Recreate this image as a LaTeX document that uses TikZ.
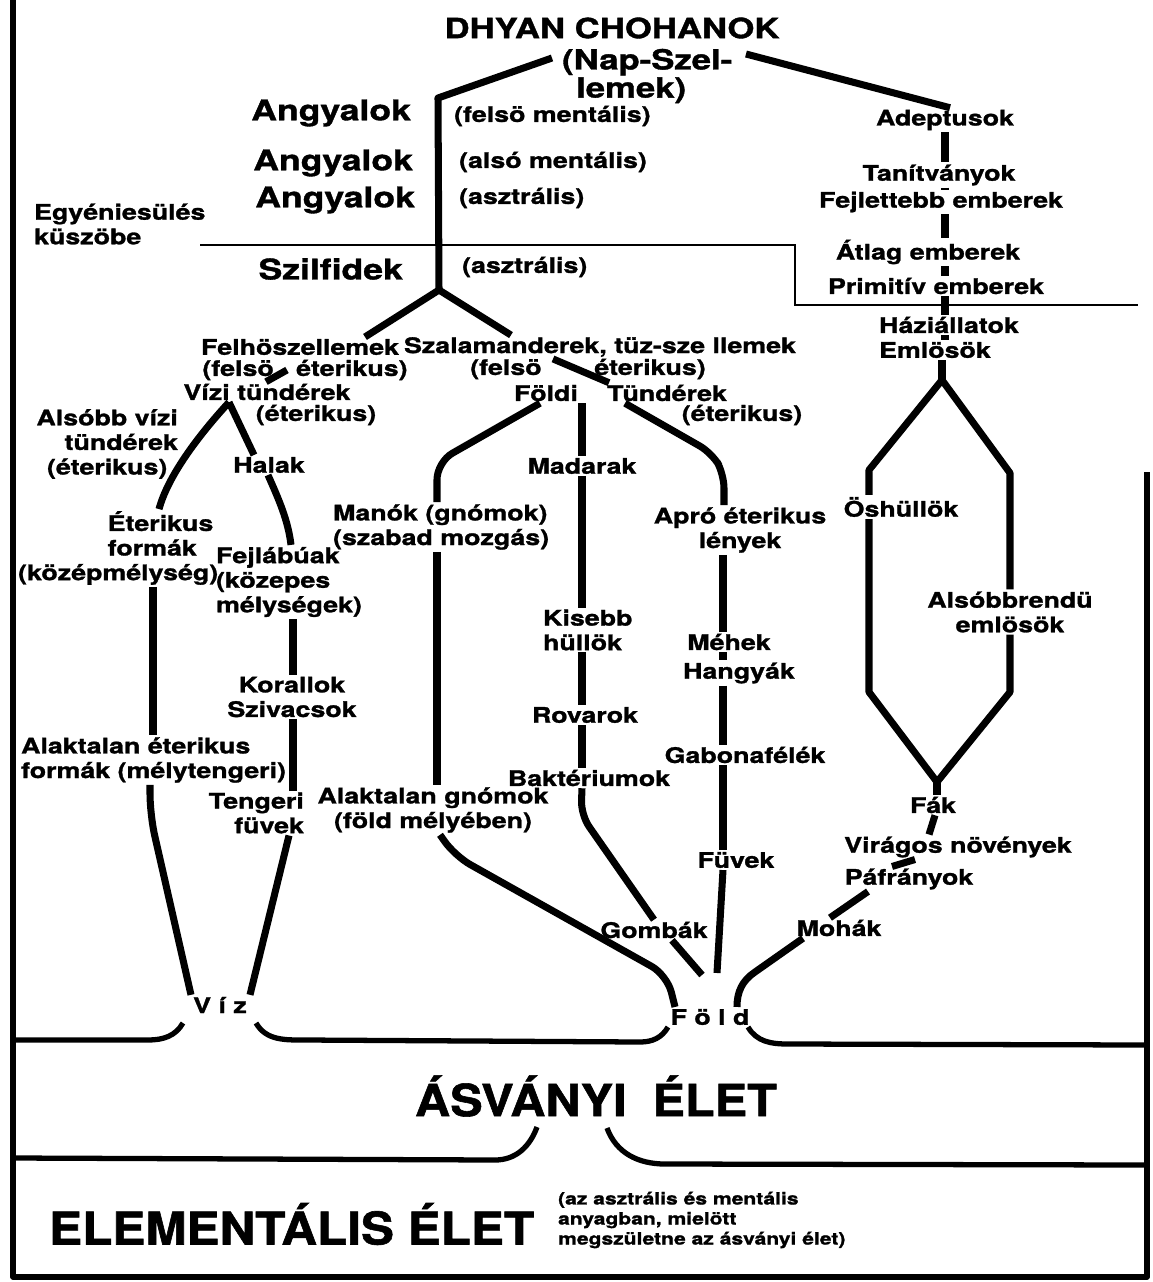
\documentclass[tikz,border=0pt]{standalone}
\usepackage{fontspec}
\setmainfont{TeX Gyre Heros}[FakeStretch=1.25, BoldFeatures={FakeBold=1.3}]
\newfontfamily\largofont{TeX Gyre Heros}[FakeStretch=1.1, BoldFeatures={FakeBold=1.3}]
\begin{document}
\begin{tikzpicture}[x=0.02cm, y=-0.02cm,
  rotulo/.style={font=\fontsize{12.2}{14}\selectfont\bfseries, inner sep=1pt, align=center},
  grande/.style={font=\fontsize{16.2}{18}\selectfont\bfseries, inner sep=1pt},
  titulo/.style={font=\fontsize{15.8}{16}\selectfont\bfseries, inner sep=1pt},
  enorme/.style={font=\largofont\fontsize{25.6}{28}\selectfont\bfseries, inner sep=1pt},
  miudo/.style={font=\fontsize{9.6}{11.4}\selectfont\bfseries, inner sep=1pt, align=left},
  ramo/.style={line width=4pt, line join=round},
  borda/.style={line width=3pt, line join=round},
  limiar/.style={line width=1.1pt}]

\useasboundingbox (0,0) rectangle (1153,1282);

% Colunas
\coordinate (cD) at (945,0);
\coordinate (cA) at (723,0);
\coordinate (cM) at (582,0);
\coordinate (cMan) at (437,0);
\coordinate (cK) at (293,0);
\coordinate (cE) at (153,0);

% Topo
\node (chohan) [titulo] at (612,28) {DHYAN CHOHANOK};
\node (napszel) [titulo, align=left, anchor=west] at (560,76) {(Nap-Szel-\\\hspace*{8pt}lemek)};

% Anjos e silfos
\node (angy1) [grande, anchor=east] at (413,113) {Angyalok};
\node (angy2) [grande, anchor=east] at (415,163) {Angyalok};
\node (angy3) [grande, anchor=east] at (417,200) {Angyalok};
\node (szilf) [grande, anchor=east] at (405,269) {Szilfidek};
\node (felsomen) [rotulo, anchor=west] at (452,116) {(felsö mentális)};
\node (alsomen) [rotulo, anchor=west] at (457,162) {(alsó mentális)};
\node (asztr1) [rotulo, anchor=west] at (457,198) {(asztrális)};
\node (asztr2) [rotulo, anchor=west] at (460,267) {(asztrális)};
\node (egyen) [rotulo, align=left, anchor=west] at (32,224) {Egyéniesülés\\küszöbe};

% Coluna da direita
\node (adept) [rotulo] at (945,120) {Adeptusok};
\node (tanit) [rotulo] at (939,175) {Tanítványok};
\node (fejlet) [rotulo] at (941,202) {Fejlettebb emberek};
\node (atlag) [rotulo] at (928,252) {Átlag emberek};
\node (primit) [rotulo] at (936,286) {Primitív emberek};
\node (hazi) [rotulo, anchor=west] at (877,325) {Háziállatok};
\node (emlos) [rotulo, anchor=west] at (877,350) {Emlösök};
\node (osh) [rotulo] at (901,507) {Öshüllök};
\node (alsobb) [rotulo] at (1010,612) {Alsóbbrendü\\emlösök};
\node (fak) [rotulo] at (933,805) {Fák};
\node (virag) [rotulo] at (958,847) {Virágos növények};
\node (pafr) [rotulo] at (909,879) {Páfrányok};
\node (mohak) [rotulo] at (839,928) {Mohák};

% Elementais de cima
\node (felhosz) [rotulo] at (300,347) {Felhöszellemek};
\node (felsoL) [rotulo] at (305,370) {(felsö\hspace{8.5pt} éterikus)};
\node (vizi) [rotulo] at (267,392) {Vízi tündérek};
\node (eterL) [rotulo] at (316,415) {(éterikus)};
\node (szalam) [rotulo] at (600,347) {Szalamanderek, tüz-sze llemek};
\node (felsoR) [rotulo] at (588,369) {(felsö\hspace{30pt}éterikus)};
\node (foldi) [rotulo] at (546,393) {Földi};
\node (tunder) [rotulo] at (667,393) {Tündérek};
\node (eterR) [rotulo] at (742,415) {(éterikus)};

% Ramo da agua
\node (alsviz) [rotulo, align=right, anchor=east] at (180,444) {Alsóbb vízi\\tündérek\\(éterikus)\hspace*{6pt}};
\node (halak) [rotulo] at (269,465) {Halak};
\node (eterik) [rotulo, align=left, anchor=west] at (16,548) {\hspace*{51pt}Éterikus\\\hspace*{51pt}formák\\(középmélység)};
\node (fejlab) [rotulo, align=left, anchor=west] at (214,582) {Fejlábúak\\(közepes\\mélységek)};
\node (koral) [rotulo] at (292,697) {Korallok\\Szivacsok};
\node (alakEt) [rotulo, align=left, anchor=west] at (19,760) {Alaktalan éterikus\\formák (mélytengeri)};
\node (tenger) [rotulo, align=right, anchor=east] at (306,813) {Tengeri\\füvek};
\node (viz) [rotulo] at (220,1005) {V í z};

% Ramo da terra
\node (manok) [rotulo, align=left, anchor=west] at (331,527) {Manók (gnómok)\\(szabad mozgás)};
\node (alakgn) [rotulo] at (433,810) {Alaktalan gnómok\\(föld mélyében)};
\node (madarak) [rotulo] at (582,466) {Madarak};
\node (kisebb) [rotulo, align=left, anchor=west] at (541,630) {Kisebb\\hüllök};
\node (rovarok) [rotulo] at (585,715) {Rovarok};
\node (bakt) [rotulo] at (589,778) {Baktériumok};
\node (gombak) [rotulo] at (654,930) {Gombák};
\node (apro) [rotulo] at (740,530) {Apró éterikus\\lények};
\node (mehek) [rotulo] at (729,642) {Méhek};
\node (hangy) [rotulo] at (739,673) {Hangyák};
\node (gabona) [rotulo] at (745,755) {Gabonafélék};
\node (fuvek) [rotulo] at (736,860) {Füvek};
\node (fold) [rotulo] at (710,1017) {F ö l d};

% Faixas de baixo
\node (asvany) [enorme, font=\largofont\fontsize{25.2}{28}\selectfont\bfseries] at (596,1096) {ÁSVÁNYI\hspace{7pt} ÉLET};
\node (elem) [enorme, anchor=west] at (47,1224) {ELEMENTÁLIS ÉLET};
\node (paren) [miudo, anchor=west] at (556,1220) {(az asztrális és mentális\\anyagban, mielött\\megszületne az ásványi élet)};

% Moldura
\draw[borda] (13,0) -- (13,1277) -- (1147,1277) -- (1147,472);
\draw[borda] (13,1040) -- (148,1040) to[out=0,in=-120] (183,1023);
\draw[borda] (256,1023) to[out=-60,in=180] (305,1040) -- (640,1042) to[out=0,in=-120] (668,1027);
\draw[borda] (748,1027) to[out=-60,in=180] (788,1044) -- (1147,1045);
\draw[borda] (13,1158) -- (495,1160) to[out=0,in=-110] (537,1127);
\draw[borda] (607,1128) to[out=-70,in=180] (665,1164) -- (1147,1165);

% Limiar da individualizacao
\draw[limiar] (200,245) -- (795,245) -- (795,305) -- (1138,305);

% Tronco
\coordinate (topoE) at (552,58);
\coordinate (topoD) at (746,54);
\coordinate (bif) at (439,290);
\draw[ramo] (topoE) -- (438,98) -- (bif);
\draw[ramo] (bif) -- (felhosz.north -| 365,0);
\draw[ramo] (bif) -- (szalam.north -| 511,0);
\draw[ramo] (topoD) -- (adept.north -| 950,0);

% Coluna da direita
\foreach \a/\b in {adept/tanit, tanit/fejlet, fejlet/atlag, atlag/primit, primit/hazi, hazi/emlos}
  \draw[ramo] (\a.south -| cD) -- (\b.north -| cD);

% Losango
\coordinate (dtopo) at (942,380);
\coordinate (dbase) at (937,782);
\draw[ramo] (emlos.south -| dtopo) -- (dtopo);
\draw[ramo] (dtopo) -- (869,470) -- (osh.north -| 869,0);
\draw[ramo] (osh.south -| 869,0) -- (869,692) -- (dbase);
\draw[ramo] (dtopo) -- (1010,473) -- (alsobb.north -| 1010,0);
\draw[ramo] (alsobb.south -| 1010,0) -- (1010,692) -- (dbase);
\draw[ramo] (dbase) -- (fak.north -| dbase);

% Plantas
\draw[ramo] (fak.south -| 935,0) -- (virag.north -| 929,0);
\draw[ramo] (virag.south -| 915,0) -- (pafr.north -| 892,0);
\draw[ramo] (pafr.south -| 868,0) -- (mohak.north -| 830,0);
\draw[ramo] (mohak.south -| 803,0) -- (755,972) to[out=-146,in=90] (fold.north -| 737,0);

% Salamandras e fadas da terra
\draw[ramo] (szalam.south -| 553,0) -- (tunder.north -| 609,0);
\draw[ramo, rounded corners=8pt] (tunder.south -| 625,0) -- (712,453) -- (724,474) -- (apro.north -| 724,0);
\foreach \a/\b in {apro/mehek, mehek/hangy, hangy/gabona, gabona/fuvek}
  \draw[ramo] (\a.south -| cA) -- (\b.north -| cA);
\coordinate (fimF) at (717,973);
\draw[ramo] (fuvek.south -| cA) -- (fimF);

% Coluna dos animais
\foreach \a/\b in {foldi/madarak, madarak/kisebb, kisebb/rovarok, rovarok/bakt}
  \draw[ramo] (\a.south -| cM) -- (\b.north -| cM);
\draw[ramo, rounded corners=8pt] (bakt.south -| cM) -- (581,815) -- (gombak.north -| 654,0);
\coordinate (fimG) at (702,975);
\draw[ramo] (gombak.south -| 672,0) -- (fimG);

% Gnomos
\draw[ramo, rounded corners=10pt] (foldi.south -| 540,0) -- (437,462) -- (manok.north -| cMan);
\draw[ramo] (manok.south -| cMan) -- (alakgn.north -| cMan);
\draw[ramo, rounded corners=10pt] (alakgn.south -| 440,0) -- (455,856) -- (667,975) -- (fold.north -| 675,0);

% Fadas da agua
\draw[ramo] (vizi.north -| 266,0) -- (felsoL.center -| 287,0);
\coordinate (vtopo) at (vizi.south -| 229,0);
\draw[ramo] (vtopo) .. controls (198,436) and (168,476) .. (eterik.north -| 159,0);
\draw[ramo] (vtopo) -- (halak.north -| 254,0);
\draw[ramo] (halak.south -| 268,0) .. controls (279,500) and (288,520) .. (fejlab.north -| 291,0);
\draw[ramo] (fejlab.south -| cK) -- (koral.north -| cK);
\draw[ramo] (koral.south -| cK) -- (tenger.north -| cK);
\draw[ramo] (tenger.south -| 289,0) -- (viz.north -| 250,0);
\draw[ramo] (eterik.south -| cE) -- (alakEt.north -| cE);
\draw[ramo, rounded corners=12pt] (alakEt.south -| 150,0) -- (150,815) -- (viz.north -| 191,0);

\end{tikzpicture}
\end{document}
